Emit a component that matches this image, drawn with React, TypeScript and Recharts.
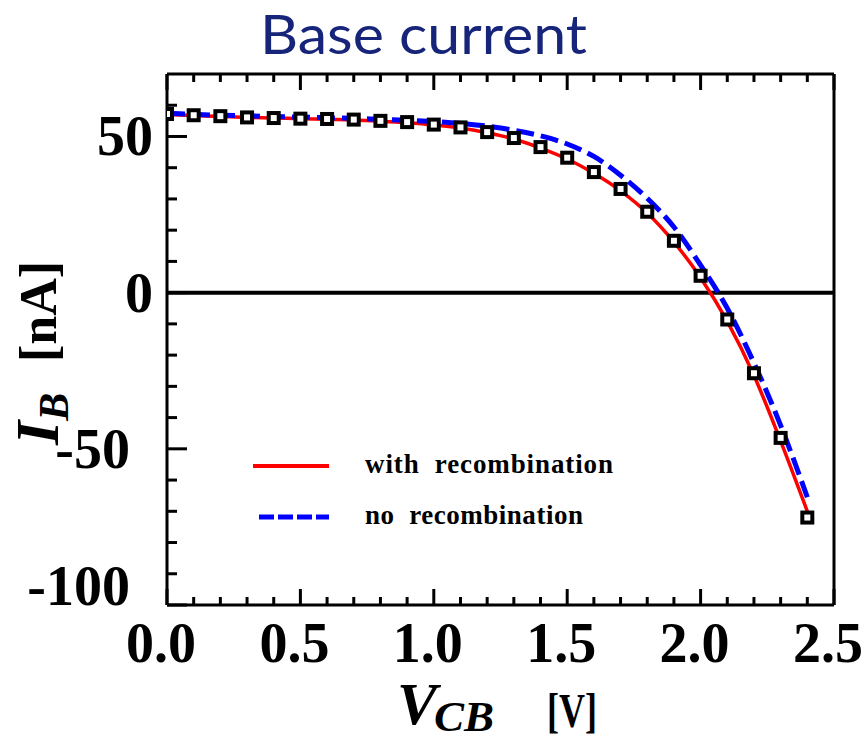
import React from 'react';
import { LineChart, Line, XAxis, YAxis, ReferenceLine, Legend } from 'recharts';

const SERIF = '"Liberation Serif", "Times New Roman", serif';

const vcb = [0, 0.1, 0.2, 0.3, 0.4, 0.5, 0.6, 0.7, 0.8, 0.9, 1.0, 1.1, 1.2, 1.3, 1.4, 1.5, 1.6, 1.7, 1.8, 1.9, 2.0, 2.1, 2.2, 2.3, 2.4];
const ibWithRecomb = [57.0, 56.7, 56.4, 56.1, 55.9, 55.7, 55.5, 55.3, 54.9, 54.4, 53.7, 52.7, 51.2, 49.2, 46.3, 42.8, 38.2, 32.6, 25.5, 16.2, 4.8, -9.2, -26.5, -47.5, -70.0];
const ibNoRecomb = [57.4, 57.1, 56.8, 56.6, 56.4, 56.2, 56.0, 55.8, 55.5, 55.2, 54.8, 54.2, 53.3, 52.0, 50.2, 47.6, 43.6, 37.6, 30.2, 21.0, 8.8, -5.0, -22.5, -42.5, -65.5];
const ibMeasured = [57.2, 56.8, 56.5, 56.1, 55.9, 55.7, 55.6, 55.4, 55.0, 54.6, 53.8, 52.9, 51.4, 49.5, 46.6, 43.2, 38.6, 33.2, 25.9, 16.6, 5.4, -8.6, -25.8, -46.5, -72.0];

const xTicks = [0, 0.1, 0.2, 0.3, 0.4, 0.5, 0.6, 0.7, 0.8, 0.9, 1.0, 1.1, 1.2, 1.3, 1.4, 1.5, 1.6, 1.7, 1.8, 1.9, 2.0, 2.1, 2.2, 2.3, 2.4, 2.5];
const yTicks = [-100, -90, -80, -70, -60, -50, -40, -30, -20, -10, 0, 10, 20, 30, 40, 50, 60];
const legendOrder = ['with  recombination', 'no  recombination'];

const data = vcb.map((v, i) => ({
    v,
    withRecomb: ibWithRecomb[i],
    noRecomb: ibNoRecomb[i],
    measured: ibMeasured[i],
}));

const isHalf = (v: number) => Math.abs(v * 2 - Math.round(v * 2)) < 1e-6;

const LeftTick = (props: any) => {
    const { x, y, payload } = props;
    const v = payload.value;
    const major = v % 50 === 0;
    return (
        <g>
            <line x1={x} y1={y} x2={x + (major ? 20 : 10)} y2={y} stroke="#000" strokeWidth={3} />
            {major && (
                <text
                    x={x - (v < 0 ? 37 : 14)}
                    y={y + (v === -100 ? -19 : 0)}
                    dy={19}
                    textAnchor="end"
                    fontFamily={SERIF}
                    fontWeight="bold"
                    fontSize={56}
                    fill="#000"
                >
                    {v}
                </text>
            )}
        </g>
    );
};

const BottomTick = (props: any) => {
    const { x, y, payload } = props;
    const v = payload.value;
    const major = isHalf(v);
    return (
        <g>
            <line x1={x} y1={y} x2={x} y2={y - (major ? 16 : 8)} stroke="#000" strokeWidth={3} />
            {major && (
                <text x={x - 6} y={y + 57} textAnchor="middle" fontFamily={SERIF} fontWeight="bold" fontSize={56} fill="#000">
                    {v.toFixed(1)}
                </text>
            )}
        </g>
    );
};

const TopTick = (props: any) => {
    const { x, y, payload } = props;
    const major = isHalf(payload.value);
    return <line x1={x} y1={y} x2={x} y2={y + (major ? 16 : 8)} stroke="#000" strokeWidth={3} />;
};

const Square = (props: any) => {
    const { cx, cy, index } = props;
    if (cx == null || cy == null) return <g key={`sq-${index}`} />;
    return <rect key={`sq-${index}`} x={cx - 5} y={cy - 5} width={10} height={10} fill="#fff" stroke="#000" strokeWidth={4} />;
};

const TitleLabel = (props: any) => {
    const { viewBox } = props;
    return (
        <text
            x={viewBox.x + 93}
            y={viewBox.y + viewBox.height - 20}
            fontFamily="Lato, 'Open Sans', sans-serif"
            fontSize={54}
            fill="#16257a"
            textLength={327}
            lengthAdjust="spacingAndGlyphs"
        >
            Base current
        </text>
    );
};

const XLabel = (props: any) => {
    const { viewBox } = props;
    const x0 = viewBox.x + 230;
    const y0 = viewBox.y + 119;
    return (
        <g fontFamily={SERIF} fontWeight="bold" fill="#000">
            <text x={x0} y={y0} fontSize={60} fontStyle="italic" textLength={40} lengthAdjust="spacingAndGlyphs">V</text>
            <text x={x0 + 37} y={y0 + 7} fontSize={42} fontStyle="italic" textLength={60} lengthAdjust="spacingAndGlyphs">CB</text>
            <text x={x0 + 150} y={y0 + 3} fontSize={48} textLength={50} lengthAdjust="spacingAndGlyphs">[V]</text>
        </g>
    );
};

const YLabel = (props: any) => {
    const { viewBox } = props;
    const x0 = viewBox.x + viewBox.width - 109;
    const y0 = viewBox.y + 371;
    return (
        <text x={x0} y={y0} transform={`rotate(-90, ${x0}, ${y0})`} fontFamily={SERIF} fontWeight="bold" fill="#000">
            <tspan fontSize={62} fontStyle="italic">I</tspan>
            <tspan fontSize={42} fontStyle="italic" dy={10}>B</tspan>
            <tspan x={x0 + 83} dy={-12} fontSize={52}>[nA]</tspan>
        </text>
    );
};

const LegendContent = (props: any) => {
    const items = (props.payload || [])
        .filter((p: any) => p.type !== 'none' && legendOrder.includes(p.value))
        .sort((a: any, b: any) => legendOrder.indexOf(a.value) - legendOrder.indexOf(b.value));
    return (
        <svg width={400} height={100}>
            {items.map((p: any, i: number) => {
                const dashed = !!(p.payload && p.payload.strokeDasharray);
                const ly = 26 + i * 51;
                return (
                    <g key={p.value}>
                        <line
                            x1={dashed ? 19 : 13}
                            x2={89}
                            y1={ly}
                            y2={ly}
                            stroke={p.color}
                            strokeWidth={dashed ? 5 : 4}
                            strokeDasharray={dashed ? '15 4' : undefined}
                        />
                        <text
                            x={125}
                            y={ly + 7}
                            fontFamily={SERIF}
                            fontWeight="bold"
                            fontSize={27}
                            fill="#000"
                            style={{ whiteSpace: 'pre' }}
                            textLength={i === 0 ? 248 : 218}
                            lengthAdjust="spacing"
                        >
                            {p.value}
                        </text>
                    </g>
                );
            })}
        </svg>
    );
};

const App: React.FC = () => {
    return (
        <div style={{ position: 'absolute', left: 0, top: 0, width: 863, height: 738, background: '#fff' }}>
            <LineChart width={863} height={738} data={data} margin={{ top: 64, right: 19, bottom: 73, left: 107 }}>
                <XAxis
                    dataKey="v"
                    type="number"
                    domain={[0, 2.5]}
                    ticks={xTicks}
                    interval={0}
                    height={60}
                    tickSize={0}
                    tickMargin={0}
                    tickLine={false}
                    tick={<BottomTick />}
                    axisLine={{ stroke: '#000', strokeWidth: 3 }}
                    allowDataOverflow
                    label={XLabel}
                />
                <XAxis
                    xAxisId="top"
                    orientation="top"
                    dataKey="v"
                    type="number"
                    domain={[0, 2.5]}
                    ticks={xTicks}
                    interval={0}
                    height={10}
                    tickSize={0}
                    tickMargin={0}
                    tickLine={false}
                    tick={<TopTick />}
                    axisLine={{ stroke: '#000', strokeWidth: 3 }}
                    allowDataOverflow
                    label={TitleLabel}
                />
                <YAxis
                    type="number"
                    domain={[-100, 70]}
                    ticks={yTicks}
                    interval={0}
                    width={60}
                    tickSize={0}
                    tickMargin={0}
                    tickLine={false}
                    tick={<LeftTick />}
                    axisLine={{ stroke: '#000', strokeWidth: 3 }}
                    allowDataOverflow
                    label={YLabel}
                />
                <YAxis
                    yAxisId="right"
                    orientation="right"
                    type="number"
                    domain={[-100, 70]}
                    width={10}
                    tick={false}
                    tickLine={false}
                    axisLine={{ stroke: '#000', strokeWidth: 3 }}
                    allowDataOverflow
                />
                <ReferenceLine y={0} stroke="#000" strokeWidth={4} />
                <Line
                    dataKey="withRecomb"
                    name="with  recombination"
                    type="monotone"
                    stroke="#ff0000"
                    strokeWidth={3.5}
                    dot={false}
                    activeDot={false}
                    isAnimationActive={false}
                />
                <Line
                    dataKey="noRecomb"
                    name="no  recombination"
                    type="monotone"
                    stroke="#0000ff"
                    strokeWidth={5}
                    strokeDasharray="18 7"
                    dot={false}
                    activeDot={false}
                    isAnimationActive={false}
                />
                <Line
                    dataKey="measured"
                    name="measured"
                    stroke="none"
                    legendType="none"
                    dot={Square}
                    activeDot={false}
                    isAnimationActive={false}
                />
                <Legend
                    layout="vertical"
                    verticalAlign="middle"
                    align="center"
                    content={LegendContent}
                    wrapperStyle={{ left: 240, top: 440, width: 400, height: 100 }}
                />
            </LineChart>
        </div>
    );
};

export default App;
